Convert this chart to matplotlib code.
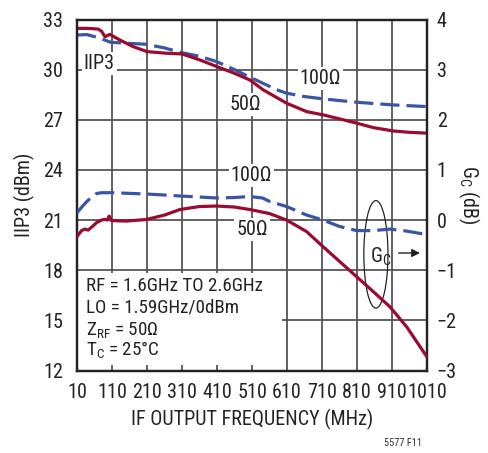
import matplotlib
matplotlib.use("Agg")
import matplotlib.pyplot as plt
from matplotlib import font_manager
from matplotlib.patches import Ellipse, Rectangle

names = {f.name for f in font_manager.fontManager.ttflist}
PREF = ["Liberation Sans Narrow", "Nimbus Sans Narrow", "Arial Narrow", "Helvetica Narrow",
        "Roboto Condensed", "PT Sans Narrow", "Archivo Narrow", "Liberation Sans"]
FONT = next(n for n in PREF if n in names)
plt.rcParams['font.family'] = [FONT, 'DejaVu Sans']
plt.rcParams['mathtext.fontset'] = 'custom'
plt.rcParams['mathtext.rm'] = FONT
plt.rcParams['mathtext.it'] = FONT

# ---- data ----
iip3_50_f = [10, 40, 70, 80, 90, 104, 130, 171, 210, 266, 310, 361, 410, 460, 504, 542, 609, 666, 714, 761, 809, 857, 914, 960, 1010]
iip3_50_v = [32.47, 32.47, 32.43, 32.3, 31.97, 32.11, 31.8, 31.37, 31.08, 30.98, 30.94, 30.58, 30.18, 29.78, 29.38, 28.79, 27.99, 27.49, 27.29, 27.05, 26.8, 26.53, 26.33, 26.25, 26.2]

iip3_100_f = [10, 38, 76, 106, 150, 207, 260, 304, 360, 409, 460, 504, 552, 580, 609, 660, 714, 760, 809, 860, 914, 960, 1010]
iip3_100_v = [32.07, 32.1, 31.88, 31.64, 31.58, 31.52, 31.3, 31.04, 30.8, 30.48, 30.0, 29.55, 29.08, 28.8, 28.59, 28.39, 28.25, 28.15, 28.05, 27.97, 27.89, 27.84, 27.79]

gc_100_f = [10, 25, 38, 55, 66, 80, 106, 150, 207, 260, 304, 360, 409, 460, 504, 540, 561, 609, 666, 713, 761, 809, 857, 904, 952, 1010]
gc_100_v = [0.146, 0.27, 0.37, 0.48, 0.53, 0.545, 0.546, 0.535, 0.52, 0.5, 0.48, 0.46, 0.44, 0.45, 0.47, 0.44, 0.37, 0.27, 0.10, 0.0, -0.13, -0.21, -0.21, -0.18, -0.22, -0.29]

gc_50_f = [11, 23, 33, 42, 52, 66, 80, 90, 97, 102, 108, 150, 207, 260, 304, 360, 409, 460, 504, 560, 609, 666, 713, 761, 809, 857, 904, 952, 1010]
gc_50_v = [-0.32, -0.21, -0.18, -0.20, -0.14, -0.05, 0.0, 0.015, 0.0, 0.08, -0.01, -0.02, 0.01, 0.1, 0.21, 0.27, 0.28, 0.26, 0.21, 0.13, 0.0, -0.23, -0.53, -0.83, -1.13, -1.43, -1.73, -2.13, -2.73]

x_ticks = [10, 110, 210, 310, 410, 510, 610, 710, 810, 910, 1010]
y_ticks = [12, 15, 18, 21, 24, 27, 30, 33]
y2_ticks = [-3, -2, -1, 0, 1, 2, 3, 4]

RED = "#9a0b2f"
BLUE = "#3a55a6"
GRID = "#555555"
INK = "#222222"

fig = plt.figure(figsize=(4.88, 4.53), dpi=100)
ax = fig.add_axes([77/488, 1-370.5/453, 350/488, 351/453])
ax2 = ax.twinx()

ax.set_xlim(10, 1010)
ax.set_ylim(12, 33)
ax2.set_ylim(-3, 4)
ax.set_xticks(x_ticks)
ax.set_yticks(y_ticks)
ax2.set_yticks(y2_ticks)
ax2.set_yticklabels([("\u2212%d" % -t) if t < 0 else str(t) for t in y2_ticks])

for a in (ax, ax2):
    a.tick_params(length=0, labelsize=14.5, colors=INK)
    for s in a.spines.values():
        s.set_linewidth(1.6)
        s.set_color(INK)
ax.tick_params(axis='x', pad=9)
ax.tick_params(axis='y', pad=10)
ax2.tick_params(axis='y', pad=7)

# grid
for xv in x_ticks[1:-1]:
    ax.axvline(xv, color=GRID, lw=1.3, zorder=1)
for yv in y_ticks[1:-1]:
    ax.axhline(yv, color=GRID, lw=1.3, zorder=1)

# white box behind conditions text
ax.add_patch(Rectangle((10, 12.3), 586, 5.55, facecolor="white", edgecolor="none", zorder=2))

ax.plot(iip3_100_f, iip3_100_v, color=BLUE, lw=2.3, dashes=(6, 2.2), zorder=4)
ax.plot(iip3_50_f, iip3_50_v, color=RED, lw=2.3, zorder=5)
ax2.plot(gc_100_f, gc_100_v, color=BLUE, lw=2.3, dashes=(6, 2.2), zorder=4)
ax2.plot(gc_50_f, gc_50_v, color=RED, lw=2.3, zorder=5)

bb = dict(facecolor="white", edgecolor="none", pad=1.5)
tk = dict(fontsize=14.5, color=INK, zorder=6, bbox=bb, ha="center", va="center")
ax.text(74, 30.34, "IIP3", **tk)
ax.text(706, 29.46, "100\u03a9", **tk)
ax.text(490, 27.92, "50\u03a9", **tk)
ax.text(508, 23.66, "100\u03a9", **tk)
ax.text(510, 20.42, "50\u03a9", **tk)
ax.text(878, 18.8, "$\\mathregular{G_C}$", fontsize=14.5, color=INK, ha="center", va="center", zorder=6)
ax.add_patch(Ellipse((864, 18.95), 69, 6.43, facecolor="none", edgecolor=INK, lw=0.9, zorder=6))
ax.annotate("", xy=(998, 19.03), xytext=(921, 19.03),
            arrowprops=dict(arrowstyle="-|>", color=INK, lw=1.0, mutation_scale=12), zorder=6)

cond = ["RF = 1.6GHz TO 2.6GHz", "LO = 1.59GHz/0dBm",
        "$\\mathregular{Z_{RF}}$ = 50\u03a9", "$\\mathregular{T_C}$ = 25\u00b0C"]
cy = [286, 308, 329.5, 350]
for t, yy in zip(cond, cy):
    fig.text(86/488, 1-yy/453, t, fontsize=13.7, color=INK, ha="left", va="center", zorder=7)

ax.set_xlabel("IF OUTPUT FREQUENCY (MHz)", fontsize=14.5, color=INK, labelpad=5)
ax.set_ylabel("IIP3 (dBm)", fontsize=14.5, color=INK, labelpad=6)
ax2.set_ylabel("$\\mathregular{G_C}$ (dB)", fontsize=14.5, color=INK, rotation=270, labelpad=18)
fig.text(403/488, 1-443/453, "5577 F11", fontsize=7.5, color="#333333", ha="center", va="center")

fig.savefig("out.png", dpi=100)
